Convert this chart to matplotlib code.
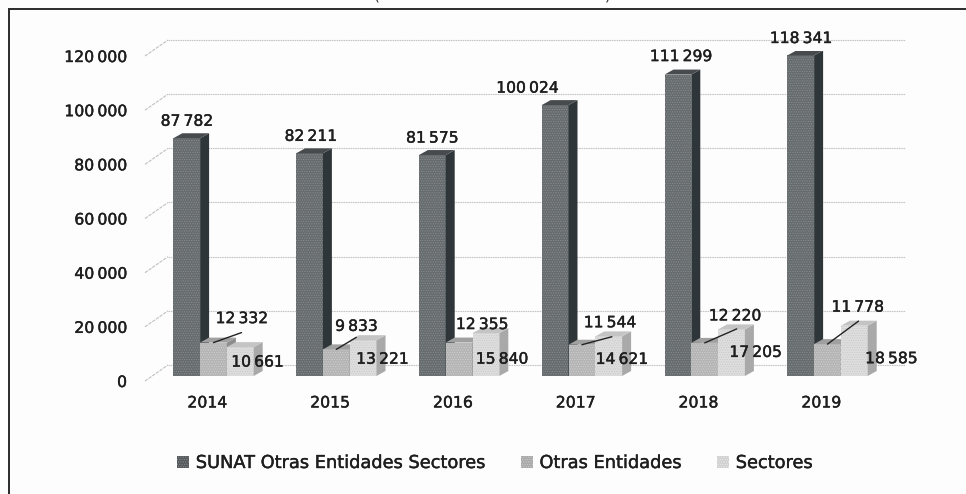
import matplotlib
matplotlib.use('Agg')
import matplotlib.pyplot as plt
import matplotlib.patheffects as pe
from matplotlib.patches import Patch, Rectangle
from matplotlib.transforms import ScaledTranslation

years = ['2014', '2015', '2016', '2017', '2018', '2019']
sunat = [87782, 82211, 81575, 100024, 111299, 118341]
otras = [12332, 9833, 12355, 11544, 12220, 11778]
sectores = [10661, 13221, 15840, 14621, 17205, 18585]
yticks = [0, 20000, 40000, 60000, 80000, 100000, 120000]
names = ['SUNAT Otras Entidades Sectores', 'Otras Entidades', 'Sectores']

def fmt(v):
    return f'{v:,}'.replace(',', '\u2009')

W, H = 966, 494
px_x = 122.8  # pixels per year group
px_y = 325 / 120000  # pixels per unit
bar_w = 26.8 / px_x
dep_x = 9 / px_x  # 3d depth of the bars
dep_y = 5 / px_y
heavy = [pe.withStroke(linewidth=0.3, foreground='#1e1e1e')]  # scan makes the text look heavier

# label offsets from the top centre of each bar, in pixels
off1 = [(0, 17), (1, 17), (0, 17), (-28, 17), (3, 18), (0, 17)]
off2 = [(28, 24), (20, 23), (23, 18), (28, 22), (30, 27), (30, 37)]
off3 = [(17, -15), (19, -19), (16, -26), (13, -23), (24, -23), (37, -33)]
leaders = [(28, 10), (20, 12), None, (30, 8), (32, 14), (31, 23)]

fig = plt.figure(figsize=(W / 100, H / 100), dpi=100, facecolor='#fdfdfd')
left, right, bottom, top = 135, W, H - 376, H - 51
ax = fig.add_axes([left / W, bottom / H, (right - left) / W, (top - bottom) / H])
ax.patch.set_alpha(0)
ax.set_xlim((left - 213.5) / px_x, (right - 213.5) / px_x)
ax.set_ylim(0, 120000)
for s in ax.spines.values():
    s.set_visible(False)

# back wall gridlines and the slanted bit going to the front
grid_up = 11 / px_y
x0 = (168 - 213.5) / px_x
x1 = (905 - 213.5) / px_x
xw = (145 - 213.5) / px_x
for v in yticks:
    ax.plot([x0, x1], [v + grid_up, v + grid_up], color='#c6c6c6', lw=0.8, ls=(0, (1.5, 0.6)),
            zorder=1, clip_on=False)
    ax.plot([xw, x0], [v - 5 / px_y, v + grid_up], color='#c0c0c0', lw=0.8, ls=(0, (3, 1)),
            zorder=1, clip_on=False)

plt.rcParams['hatch.linewidth'] = 0.5
series = [
    (sunat, -1, '#666b6e', '#2f3639', '#474b4d', '#8a8e90', off1),
    (otras, 0, '#b4b4b4', '#8d8d8d', '#a0a0a0', '#d0d0d0', off2),
    (sectores, 1, '#dedede', '#a9a9a9', '#c4c4c4', '#c8c8c8', off3),
]
for k, (vals, pos, front, side, topc, dots, off) in enumerate(series):
    z = 3 + k
    for i, v in enumerate(vals):
        x = i + pos * bar_w
        ax.bar(x, v, bar_w, color=front, edgecolor=dots, hatch='.......', linewidth=0, zorder=z)
        r = x + bar_w / 2
        l = x - bar_w / 2
        ax.fill([r, r + dep_x, r + dep_x, r], [0, dep_y, v + dep_y, v], color=side, lw=0, zorder=z)
        ax.fill([l, l + dep_x, r + dep_x, r], [v, v + dep_y, v + dep_y, v], color=topc, lw=0, zorder=z)
        ax.annotate(fmt(v), (x, v), xytext=off[i], textcoords='offset pixels', ha='center', va='center',
                    fontsize=11.2, color='#1e1e1e', zorder=10, path_effects=heavy)

for i, l in enumerate(leaders):
    if l is not None:
        ax.annotate('', (i, otras[i]), xytext=l, textcoords='offset pixels',
                    arrowprops=dict(arrowstyle='-', color='#222222', lw=1.0, shrinkA=0, shrinkB=0), zorder=9)

ax.set_yticks(yticks)
ax.set_yticklabels([fmt(v) for v in yticks], fontsize=11.3, color='#1e1e1e', path_effects=heavy)
ax.set_xticks([i - 0.05 for i in range(len(years))])
ax.set_xticklabels(years, fontsize=11.3, color='#1e1e1e', path_effects=heavy)
ax.tick_params(axis='y', length=0, pad=5.8)
ax.tick_params(axis='x', length=0, pad=14)
shift = ScaledTranslation(0, -5 / 100, fig.dpi_scale_trans)
for lab in ax.get_yticklabels():
    lab.set_transform(lab.get_transform() + shift)

handles = [Patch(facecolor=c, edgecolor=d, hatch='.......', lw=0) for c, d in
           [('#55595c', '#8a8e90'), ('#a8a8a8', '#d0d0d0'), ('#d0d0d0', '#eeeeee')]]
leg = fig.legend(handles, names, ncol=3, frameon=False, fontsize=12.8, loc='center',
                 bbox_to_anchor=(495 / W, 1 - 463 / H), handlelength=0.68, handleheight=0.68,
                 handletextpad=0.36, columnspacing=2.0, labelcolor='#1e1e1e')
for t in leg.get_texts():
    t.set_path_effects(heavy)

# frame of the original box, runs off the crop on the right and bottom
fig.add_artist(Rectangle((8.5 / W, -0.1), 1.1, 1.1 - 9.5 / H, transform=fig.transFigure, fill=False,
                         edgecolor='#2a2a2a', lw=1.4))
# bits of the title cut off by the crop
fig.text(377 / W, 1 - 3 / H, '(', fontsize=11, ha='center', va='bottom', color='#333333')
fig.text(608 / W, 1 - 3 / H, ')', fontsize=11, ha='center', va='bottom', color='#333333')

fig.savefig('out.png', dpi=100, facecolor=fig.get_facecolor())
